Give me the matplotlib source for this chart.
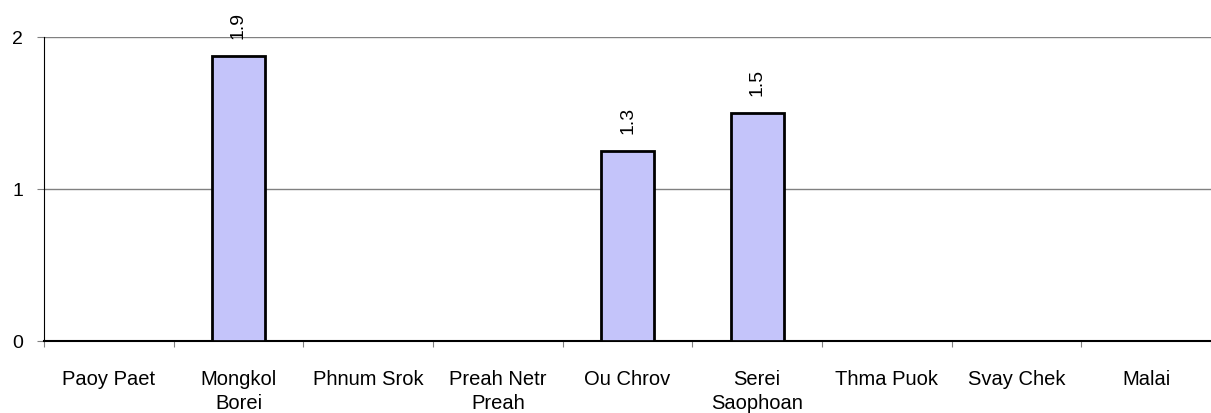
import matplotlib
matplotlib.use('Agg')
import matplotlib.pyplot as plt
import numpy as np

plt.rcParams['font.family'] = ['Liberation Sans', 'DejaVu Sans']

# data
districts = ['Paoy Paet', 'Mongkol\nBorei', 'Phnum Srok', 'Preah Netr\nPreah', 'Ou Chrov',
             'Serei\nSaophoan', 'Thma Puok', 'Svay Chek', 'Malai']
values = [0, 1.875, 0, 0, 1.25, 1.5, 0, 0, 0]
labels = ['', '1.9', '', '', '1.3', '1.5', '', '', '']

fig = plt.figure(figsize=(12.11, 4.13), dpi=100)
ax = fig.add_axes([44/1211, 1-341/413, 1-44/1211, (341-37)/413])

x = np.arange(len(districts))
for xi, v, lab in zip(x, values, labels):
    if v > 0:
        ax.bar(xi, v, width=0.41, color='#c4c4fa', edgecolor='black', linewidth=2, zorder=3)
        ax.annotate(lab, (xi, v), xytext=(0, 12), textcoords='offset points',
                    rotation=90, ha='center', va='bottom', fontsize=14)

ax.set_xlim(-0.5, len(districts) - 0.5)
ax.set_ylim(0, 2)
ax.set_yticks([0, 1, 2])
ax.set_yticklabels(['0', '1', '2'], fontsize=14)
ax.yaxis.grid(True, color='#808080', linewidth=1)
ax.set_axisbelow(True)

# category labels between boundary ticks
ax.set_xticks(np.arange(-0.5, len(districts), 1))
ax.set_xticklabels([])
ax.set_xticks(x, minor=True)
ax.set_xticklabels(districts, minor=True, fontsize=14.5, linespacing=1.3)
ax.tick_params(axis='x', which='minor', length=0, pad=21)
ax.tick_params(axis='x', which='major', length=4, color='#808080', direction='out')
ax.tick_params(axis='y', length=5, color='#808080', pad=10)

for s in ['top', 'right']:
    ax.spines[s].set_visible(False)
ax.spines['left'].set_color('black')
ax.spines['bottom'].set_color('black')
ax.spines['bottom'].set_linewidth(1.5)

fig.savefig('out.png', dpi=100)
